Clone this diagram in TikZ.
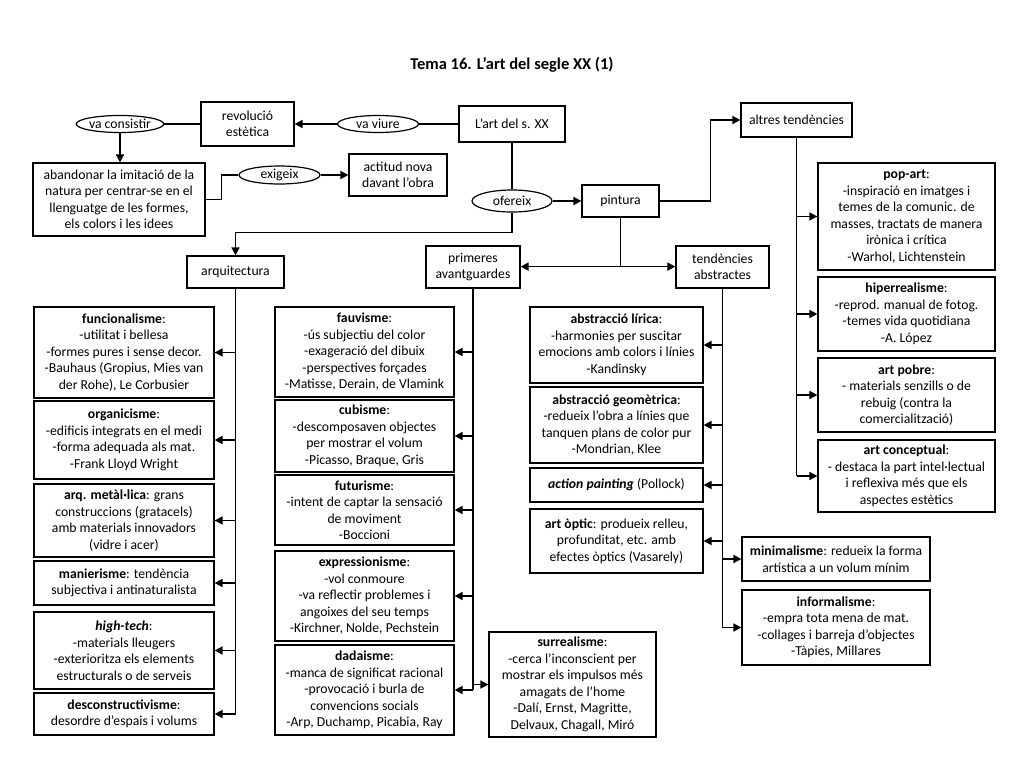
\documentclass[tikz,border=0pt]{standalone}
\usepackage{fontspec}
\setmainfont{Carlito}
\usetikzlibrary{shapes.geometric,arrows.meta,calc}
\begin{document}
\begin{tikzpicture}[x=1pt,y=-1pt,
  box/.style={draw, line width=1.2pt, rectangle, align=center, inner sep=1pt, font=\fontsize{13.7}{16.5}\selectfont},
  oval/.style={draw, line width=1.2pt, ellipse, align=center, inner sep=0pt, font=\fontsize{13.7}{16.5}\selectfont},
  conn/.style={line width=1.6pt},
  arr/.style={line width=1.6pt, -{Triangle[length=8pt,width=8pt]}}]
\useasboundingbox (0,0) rectangle (1024,768);
\fill[white] (0,0) rectangle (1024,768);
\node[font=\fontsize{16.5}{19}\selectfont\bfseries] (title) at (512,65) {Tema 16. L’art del segle XX (1)};
% top
\node[oval, minimum width=80, minimum height=17] (vaconsistir) at (120,124) {va consistir};
\node[box, minimum width=93, minimum height=44] (revolucio) at (247.5,124) {revolució\\estètica};
\node[oval, minimum width=81, minimum height=17] (vaviure) at (378,124) {va viure};
\node[box, minimum width=106, minimum height=36] (lart) at (512,124) {L’art del s. XX};
\node[box, minimum width=172, minimum height=73] (abandonar) at (119,199.5) {abandonar la imitació de la\\natura per centrar-se en el\\llenguatge de les formes,\\els colors i les idees};
\node[oval, minimum width=81, minimum height=18] (exigeix) at (279.5,175) {exigeix};
\node[box, minimum width=98, minimum height=42] (actitud) at (398,175) {actitud nova\\davant l’obra};
\node[oval, minimum width=80, minimum height=22] (ofereix) at (512,201) {ofereix};
\node[box, minimum width=77, minimum height=32] (pintura) at (620.5,201) {pintura};
\node[box, minimum width=111, minimum height=34] (altres) at (796.5,120) {altres tendències};
\node[box, minimum width=97, minimum height=32] (arquitectura) at (235.5,272) {arquitectura};
\node[box, minimum width=94, minimum height=42] (primeres) at (473,267) {primeres\\avantguardes};
\node[box, minimum width=93, minimum height=42] (tendencies) at (722.5,267) {tendències\\abstractes};
% left column
\node[box, minimum width=180, minimum height=91] (funcional) at (124,352.5) {\textbf{funcionalisme}:\\-utilitat i bellesa\\-formes pures i sense decor.\\-Bauhaus (Gropius, Mies van\\der Rohe), Le Corbusier};
\node[box, minimum width=180, minimum height=78] (organic) at (124,440) {\textbf{organicisme}:\\-edificis integrats en el medi\\-forma adequada als mat.\\-Frank Lloyd Wright};
\node[box, minimum width=180, minimum height=73] (metal) at (124,520.5) {\textbf{arq. metàl·lica}: grans\\construccions (gratacels)\\amb materials innovadors\\(vidre i acer)};
\node[box, minimum width=180, minimum height=44] (manier) at (124,583) {\textbf{manierisme}: tendència\\subjectiva i antinaturalista};
\node[box, minimum width=180, minimum height=77] (hightech) at (124,650.5) {\textbf{\textit{high-tech}}:\\-materials lleugers\\-exterioritza els elements\\estructurals o de serveis};
\node[box, minimum width=180, minimum height=42] (descon) at (124,714) {\textbf{desconstructivisme}:\\desordre d’espais i volums};
% middle column
\node[box, minimum width=179, minimum height=90] (fauv) at (364.5,352) {\textbf{fauvisme}:\\-ús subjectiu del color\\-exageració del dibuix\\-perspectives forçades\\-Matisse, Derain, de Vlamink};
\node[box, minimum width=179, minimum height=72] (cubis) at (364.5,436) {\textbf{cubisme}:\\-descomposaven objectes\\per mostrar el volum\\-Picasso, Braque, Gris};
\node[box, minimum width=179, minimum height=70] (futur) at (364.5,510) {\textbf{futurisme}:\\-intent de captar la sensació\\de moviment\\-Boccioni};
\node[box, minimum width=179, minimum height=90] (express) at (364.5,596) {\textbf{expressionisme}:\\-vol conmoure\\-va reflectir problemes i\\angoixes del seu temps\\-Kirchner, Nolde, Pechstein};
\node[box, minimum width=179, minimum height=90] (dada) at (364.5,690) {\textbf{dadaisme}:\\-manca de significat racional\\-provocació i burla de\\convencions socials\\-Arp, Duchamp, Picabia, Ray};
\node[box, minimum width=167, minimum height=105] (surreal) at (572.5,684.5) {\textbf{surrealisme}:\\-cerca l’inconscient per\\mostrar els impulsos més\\amagats de l’home\\-Dalí, Ernst, Magritte,\\Delvaux, Chagall, Miró};
% abstract column
\node[box, minimum width=173, minimum height=76] (lirica) at (616.5,345) {\textbf{abstracció lírica}:\\-harmonies per suscitar\\emocions amb colors i línies\\-Kandinsky};
\node[box, minimum width=173, minimum height=76] (geom) at (616.5,425) {\textbf{abstracció geomètrica}:\\-redueix l’obra a línies que\\tanquen plans de color pur\\-Mondrian, Klee};
\node[box, minimum width=173, minimum height=34] (action) at (616.5,485) {\textbf{\textit{action painting}} (Pollock)};
\node[box, minimum width=173, minimum height=64] (optic) at (616.5,541) {\textbf{art òptic}: produeix relleu,\\profunditat, etc. amb\\efectes òptics (Vasarely)};
\node[box, minimum width=188, minimum height=44] (minim) at (836,559) {\textbf{minimalisme}: redueix la forma\\artística a un volum mínim};
\node[box, minimum width=188, minimum height=75] (informal) at (836,627.5) {\textbf{informalisme}:\\-empra tota mena de mat.\\-collages i barreja d’objectes\\-Tàpies, Millares};
% right column
\node[box, minimum width=177, minimum height=107] (popart) at (906.5,216.5) {\textbf{pop-art}:\\-inspiració en imatges i\\temes de la comunic. de\\masses, tractats de manera\\irònica i crítica\\-Warhol, Lichtenstein};
\node[box, minimum width=177, minimum height=74] (hiper) at (906.5,314) {\textbf{hiperrealisme}:\\-reprod. manual de fotog.\\-temes vida quotidiana\\-A. López};
\node[box, minimum width=177, minimum height=74] (pobre) at (906.5,395) {\textbf{art pobre}:\\- materials senzills o de\\rebuig (contra la\\comercialització)};
\node[box, minimum width=177, minimum height=72] (concept) at (906.5,476) {\textbf{art conceptual}:\\- destaca la part intel·lectual\\i reflexiva més que els\\aspectes estètics};
% top connectors
\draw[conn] (vaconsistir) -- (revolucio);
\draw[arr] (vaconsistir.south) -- (vaconsistir.south |- abandonar.north);
\draw[arr] (vaviure) -- (revolucio);
\draw[conn] (lart) -- (vaviure);
\draw[conn] (abandonar.east) -- ++(16,0) |- (exigeix.west);
\draw[arr] (exigeix) -- (actitud);
\draw[conn] (lart) -- (ofereix);
\draw[arr] (ofereix) -- (pintura);
\draw[arr] (ofereix.south) -- ++(0,20) -| (arquitectura.north);
\draw[arr] (pintura.east) -- ++(51,0) |- (altres.west);
\draw[conn] (pintura.south) -- ++(0,49) coordinate (pj);
\draw[arr] (pj) -- (pj -| primeres.east);
\draw[arr] (pj) -- (pj -| tendencies.west);
% left trunk
\coordinate (lt) at (arquitectura.south);
\draw[conn] (lt) -- (lt |- descon.east);
\foreach \n in {funcional,organic,metal,manier,hightech,descon}
  \draw[arr] (lt |- \n.east) -- (\n.east);
% middle trunk
\coordinate (mt) at (primeres.south);
\draw[conn] (mt) -- (mt |- dada.east);
\foreach \n in {fauv,cubis,futur,express,dada}
  \draw[arr] (mt |- \n.east) -- (\n.east);
\draw[arr] (mt |- surreal.west) -- (surreal.west);
% abstract trunk
\coordinate (at) at (tendencies.south);
\draw[conn] (at) -- (at |- informal.west);
\foreach \n in {lirica,geom,action,optic}
  \draw[arr] (at |- \n.east) -- (\n.east);
\foreach \n in {minim,informal}
  \draw[arr] (at |- \n.west) -- (\n.west);
% right trunk
\coordinate (rt) at (altres.south);
\draw[conn] (rt) -- (rt |- concept.west);
\foreach \n in {popart,hiper,pobre,concept}
  \draw[arr] (rt |- \n.west) -- (\n.west);
\end{tikzpicture}
\end{document}
